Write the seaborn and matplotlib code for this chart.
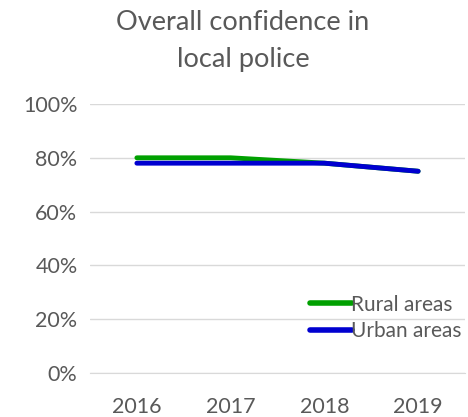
import pandas as pd
import matplotlib.pyplot as plt
import seaborn as sns

years = ['2016', '2017', '2018', '2019']
rural = [80, 80, 78, 75]
urban = [78, 78, 78, 75]

data = pd.DataFrame({
    'Year': years * 2,
    'Confidence': rural + urban,
    'Area': ['Rural areas'] * 4 + ['Urban areas'] * 4,
})
data['x'] = data['Year'].map({y: i for i, y in enumerate(years)})

sns.set_style('white')
plt.rcParams['font.family'] = ['Lato', 'DejaVu Sans']

fig = plt.figure(figsize=(4.68, 4.17), dpi=100)
ax = fig.add_axes([90 / 468, 44 / 417, 375 / 468, 269 / 417])

sns.lineplot(data=data, x='x', y='Confidence', hue='Area',
             palette={'Rural areas': '#00a000', 'Urban areas': '#0000d0'},
             linewidth=3.5, ax=ax, legend=False)

ax.set_xlim(-0.5, 3.5)
ax.set_ylim(0, 100)
ax.set_yticks(range(0, 101, 20))
ax.set_yticklabels([f'{v}%' for v in range(0, 101, 20)])
ax.set_xticks(range(4))
ax.set_xticklabels(years)
ax.set_xticks([-0.5, 0.5, 1.5, 2.5, 3.5], minor=True)
ax.tick_params(axis='x', which='major', length=0, pad=17, labelsize=15.5, labelcolor='#595959')
ax.tick_params(axis='x', which='minor', length=6, width=1, color='#d9d9d9', direction='out')
ax.tick_params(axis='y', length=0, pad=9, labelsize=15.5, labelcolor='#595959')
ax.grid(axis='y', color='#d9d9d9', linewidth=1)
ax.set_axisbelow(True)
for s in ['left', 'right', 'top']:
    ax.spines[s].set_visible(False)
ax.spines['bottom'].set_color('#d9d9d9')
ax.set_xlabel('')
ax.set_ylabel('')

fig.text(243 / 468, 1 - 41 / 417, 'Overall confidence in\nlocal police', ha='center', va='center',
         fontsize=19.5, color='#595959', linespacing=1.55)

handles = [plt.Line2D([], [], color='#00a000', linewidth=4),
           plt.Line2D([], [], color='#0000d0', linewidth=4)]
fig.legend(handles, ['Rural areas', 'Urban areas'], loc='upper left',
           bbox_to_anchor=(291 / 468, 1 - 276 / 417), frameon=False, fontsize=15,
           handlelength=2.05, handletextpad=-0.05, labelspacing=0.3, labelcolor='#595959')

fig.savefig('out.png', dpi=100)
